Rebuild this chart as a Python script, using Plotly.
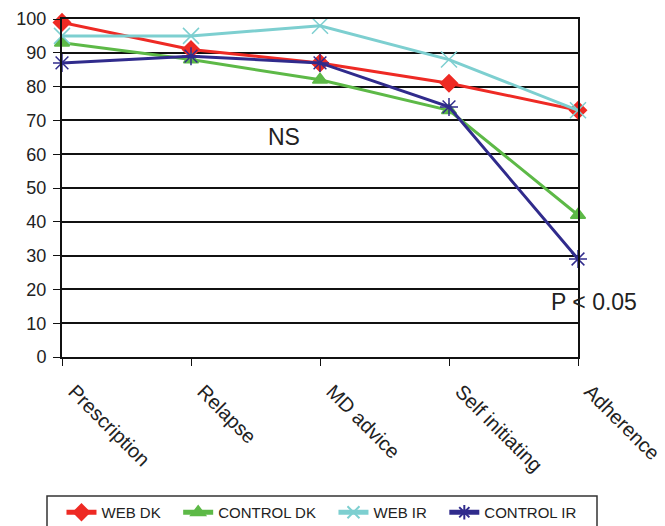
import plotly.graph_objects as go

categories = ["Prescription", "Relapse", "MD advice", "Self initiating", "Adherence"]
web_dk = [99, 91, 87, 81, 73]
control_dk = [93, 88, 82, 73, 42]
web_ir = [95, 95, 98, 88, 73]
control_ir = [87, 89, 87, 74, 29]

series = [
    ("WEB DK", web_dk, "#EE2A24", "diamond", 13),
    ("CONTROL DK", control_dk, "#5DB947", "triangle-up", 13),
    ("WEB IR", web_ir, "#7DCFD0", "x-thin-open", 16),
    ("CONTROL IR", control_ir, "#302B8C", "asterisk-open", 15),
]

L, R, T, B = 62, 578, 19, 357
W, H = 665, 526

fig = go.Figure()
for name, vals, color, sym, size in series:
    fig.add_trace(go.Scatter(
        x=list(range(len(categories))), y=vals, name=name + "\u00a0\u00a0\u00a0", mode="lines+markers",
        line=dict(color=color, width=3),
        marker=dict(symbol=sym, size=size, color=color, line=dict(color=color, width=1.5)),
        cliponaxis=False,
    ))

def px_x(x):
    return (x - L) / (R - L)

def px_y(y):
    return (B - y) / (B - T)

fig.update_layout(
    width=W, height=H,
    margin=dict(l=L, r=W - R, t=T, b=H - B, autoexpand=False),
    paper_bgcolor="white", plot_bgcolor="white",
    font=dict(family="Liberation Sans, Arial, sans-serif", color="#222"),
    showlegend=True,
    legend=dict(orientation="h", x=-0.001, y=px_y(496), xanchor="left", yanchor="top",
                borderwidth=0, font=dict(size=15), bgcolor="rgba(0,0,0,0)",
                itemwidth=30, itemsizing="constant"),
    shapes=[dict(type="rect", xref="paper", yref="paper",
                 x0=px_x(47), x1=px_x(597), y0=px_y(496), y1=px_y(540),
                 line=dict(color="#333", width=1.5), fillcolor="rgba(0,0,0,0)")],
    xaxis=dict(
        range=[0, 4], tickmode="array", tickvals=list(range(len(categories))),
        ticktext=categories, tickangle=45, tickfont=dict(size=20),
        showline=True, linecolor="#111", linewidth=2, mirror=True,
        ticks="outside", ticklen=7, tickcolor="#111", showgrid=False, zeroline=False,
        automargin=False, ticklabelstandoff=6, ticklabelshift=12,
    ),
    yaxis=dict(
        range=[0, 100], dtick=10, tickfont=dict(size=18),
        showline=True, linecolor="#111", linewidth=2, mirror=True,
        ticks="outside", ticklen=7, tickcolor="#111",
        showgrid=True, gridcolor="#111", gridwidth=1.5, zeroline=False,
        automargin=False, ticklabelstandoff=3,
    ),
    annotations=[
        dict(text="NS", x=px_x(284), y=px_y(137), xref="paper", yref="paper",
             xanchor="center", yanchor="middle", showarrow=False, font=dict(size=23)),
        dict(text="P < 0.05", x=px_x(594), y=px_y(302), xref="paper", yref="paper",
             xanchor="center", yanchor="middle", showarrow=False, font=dict(size=23)),
    ],
)

fig.write_html("out.html")
